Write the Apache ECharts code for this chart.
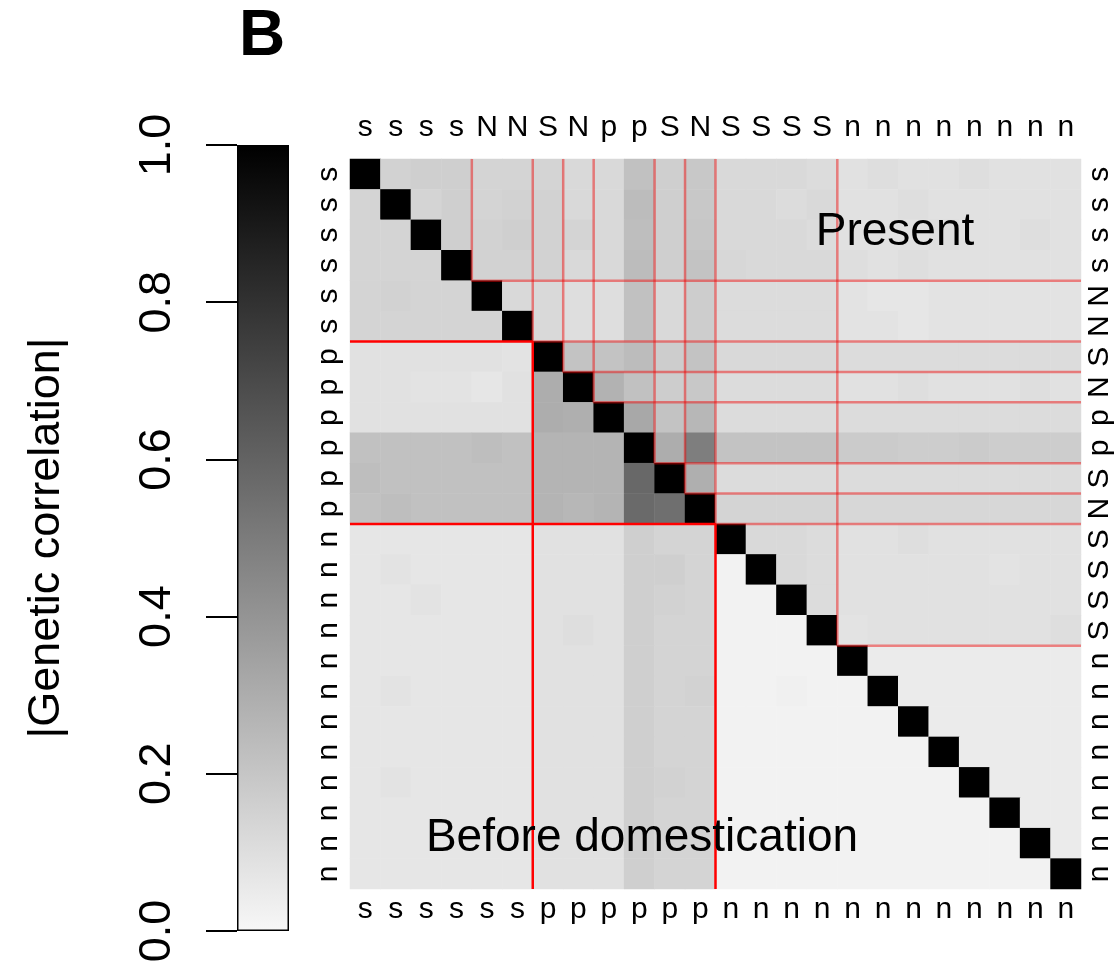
<!DOCTYPE html>
<html>
<head>
<meta charset="utf-8">
<title>Genetic correlation</title>
<script src="https://cdn.jsdelivr.net/npm/echarts@6/dist/echarts.min.js"></script>
<style>
html, body { margin: 0; padding: 0; background: #fff; }
#main { width: 1120px; height: 966px; }
</style>
</head>
<body>
<div id="main"></div>
<script>
/* Trait labels: present order (top, right) and before-domestication order (bottom, left). */
var presentLabels = ['s','s','s','s','N','N','S','N','p','p','S','N','S','S','S','S','n','n','n','n','n','n','n','n'];
var beforeLabels  = ['s','s','s','s','s','s','p','p','p','p','p','p','n','n','n','n','n','n','n','n','n','n','n','n'];

/* Upper triangle (present): row i holds columns i+1 .. 23. */
var presentRows = [
    [.15,.16,.16,.14,.14,.14,.12,.12,.22,.16,.19,.12,.12,.12,.11,.09,.10,.09,.09,.10,.09,.09,.09],
    [.14,.16,.14,.15,.15,.12,.12,.24,.16,.19,.12,.12,.11,.12,.09,.09,.10,.09,.09,.09,.09,.09],
    [.16,.15,.16,.15,.14,.12,.23,.16,.20,.12,.12,.12,.11,.09,.09,.09,.10,.09,.09,.10,.09],
    [.15,.15,.15,.12,.12,.24,.16,.21,.13,.12,.12,.12,.10,.09,.10,.09,.09,.09,.09,.09],
    [.12,.12,.10,.10,.22,.12,.17,.11,.11,.11,.11,.08,.07,.07,.08,.08,.08,.08,.08],
    [.12,.10,.10,.22,.12,.17,.11,.11,.11,.11,.08,.08,.07,.08,.08,.08,.08,.08],
    [.21,.21,.24,.17,.21,.12,.12,.12,.12,.11,.11,.11,.11,.11,.11,.11,.11],
    [.28,.22,.17,.19,.11,.11,.11,.11,.09,.09,.10,.09,.09,.09,.10,.09],
    [.32,.21,.26,.11,.11,.11,.11,.11,.11,.11,.11,.11,.11,.11,.11],
    [.30,.49,.21,.21,.21,.21,.18,.18,.17,.17,.18,.17,.17,.17],
    [.29,.11,.11,.11,.11,.11,.11,.11,.11,.11,.11,.11,.11],
    [.14,.14,.14,.14,.13,.13,.13,.13,.13,.13,.13,.13],
    [.12,.12,.11,.09,.09,.10,.09,.09,.09,.09,.09],
    [.12,.11,.09,.09,.09,.09,.09,.08,.09,.09],
    [.11,.09,.09,.09,.09,.09,.09,.09,.09],
    [.08,.09,.09,.09,.09,.09,.09,.10],
    [.05,.05,.05,.05,.05,.05,.05],
    [.05,.05,.05,.05,.05,.05],
    [.05,.05,.05,.05,.05],
    [.05,.05,.05,.05],
    [.05,.05,.05],
    [.05,.05],
    [.05],
    []
];

/* Lower triangle (before domestication): row i holds columns 0 .. i-1. */
var beforeRows = [
    [],
    [.14],
    [.14,.14],
    [.14,.14,.14],
    [.14,.15,.14,.14],
    [.14,.14,.14,.14,.14],
    [.09,.09,.09,.09,.09,.08],
    [.09,.09,.08,.08,.07,.09,.30],
    [.09,.09,.09,.09,.09,.09,.30,.29],
    [.22,.22,.22,.22,.23,.22,.27,.27,.27],
    [.23,.22,.22,.22,.22,.22,.27,.27,.27,.58],
    [.22,.23,.22,.22,.22,.22,.27,.26,.27,.57,.55],
    [.07,.07,.07,.07,.07,.07,.09,.09,.09,.16,.14,.14],
    [.07,.08,.07,.07,.07,.07,.09,.09,.09,.16,.16,.14,.02],
    [.07,.07,.08,.07,.07,.07,.09,.09,.09,.16,.15,.14,.02,.02],
    [.07,.07,.07,.07,.07,.07,.09,.10,.09,.16,.14,.14,.02,.02,.02],
    [.07,.07,.07,.07,.07,.07,.09,.09,.09,.16,.14,.14,.02,.02,.02,.02],
    [.07,.08,.07,.07,.07,.07,.09,.09,.09,.16,.14,.15,.02,.02,.03,.02,.02],
    [.07,.07,.07,.07,.07,.07,.09,.09,.09,.16,.14,.14,.02,.02,.02,.02,.02,.02],
    [.07,.07,.07,.07,.07,.07,.09,.09,.09,.16,.14,.14,.02,.02,.02,.02,.02,.02,.02],
    [.07,.08,.07,.07,.07,.07,.09,.09,.09,.16,.15,.14,.02,.02,.02,.02,.02,.02,.02,.02],
    [.07,.07,.07,.07,.07,.07,.09,.09,.09,.16,.14,.14,.02,.02,.02,.02,.02,.02,.02,.02,.02],
    [.07,.07,.07,.07,.07,.07,.09,.09,.09,.16,.14,.14,.02,.02,.02,.02,.02,.02,.02,.02,.02,.02],
    [.07,.07,.07,.07,.07,.07,.09,.09,.09,.16,.14,.14,.02,.02,.02,.02,.02,.02,.02,.02,.02,.02,.02]
];

var fontFamily = '"Liberation Sans", Arial, Helvetica, sans-serif';
var colorLow   = '#f7f7f7';
var colorHigh  = '#000000';

/**
 * Indices where a label group starts (label differs from the previous one).
 */
function groupBreaks(labels)
{
    var breaks = [];
    for(var k = 1; k < labels.length; k++)
    {
        if(labels[k] != labels[k - 1]) breaks.push(k);
    }
    return breaks;
}

function buildCells()
{
    var cells = [];
    var n = presentLabels.length;
    for(var i = 0; i < n; i++)
    {
        for(var j = 0; j < n; j++)
        {
            var v;
            if(i == j) v = 1;
            else if(j > i) v = presentRows[i][j - i - 1];
            else v = beforeRows[i][j];
            cells.push([j, i, v]);
        }
    }
    return cells;
}

function buildLines()
{
    var n = presentLabels.length;
    var series = [];
    groupBreaks(presentLabels).forEach(function(k)
    {
        series.push({
            type: 'line', xAxisIndex: 2, yAxisIndex: 2, z: 10, silent: true,
            symbol: 'none', clip: false,
            lineStyle: {color: 'rgba(240,0,0,0.45)', width: 2.5},
            data: [[k, 0], [k, k], [n, k]]
        });
    });
    groupBreaks(beforeLabels).forEach(function(k)
    {
        series.push({
            type: 'line', xAxisIndex: 2, yAxisIndex: 2, z: 11, silent: true,
            symbol: 'none', clip: false,
            lineStyle: {color: '#ff0000', width: 2.5},
            data: [[0, k], [k, k], [k, n]]
        });
    });
    return series;
}

var labelStyle = {color: '#000', fontSize: 30, fontFamily: fontFamily, interval: 0, hideOverlap: false};

var chart  = echarts.init(document.getElementById('main'), null, {renderer: 'canvas'});
var option = {
    animation: false,
    backgroundColor: '#fff',
    grid: [
        {left: 350, top: 159, width: 731, height: 730, outerBoundsMode: 'none', containLabel: false},
        {left: 237, top: 145, width: 52, height: 786, outerBoundsMode: 'none', containLabel: false}
    ],
    xAxis: [
        {type: 'category', gridIndex: 0, position: 'bottom', data: beforeLabels,
         axisLine: {show: false}, axisTick: {show: false}, splitLine: {show: false},
         axisLabel: Object.assign({margin: 6}, labelStyle)},
        {type: 'category', gridIndex: 0, position: 'top', data: presentLabels,
         axisLine: {show: false}, axisTick: {show: false}, splitLine: {show: false},
         axisLabel: Object.assign({margin: 16}, labelStyle)},
        {type: 'value', gridIndex: 0, min: 0, max: presentLabels.length, show: false},
        {type: 'category', gridIndex: 1, data: [''], show: false}
    ],
    yAxis: [
        {type: 'category', gridIndex: 0, position: 'left', inverse: true, data: beforeLabels,
         axisLine: {show: false}, axisTick: {show: false}, splitLine: {show: false},
         axisLabel: Object.assign({margin: 6, rotate: 90}, labelStyle)},
        {type: 'category', gridIndex: 0, position: 'right', inverse: true, data: presentLabels,
         axisLine: {show: false}, axisTick: {show: false}, splitLine: {show: false},
         axisLabel: Object.assign({margin: 4, rotate: 90}, labelStyle)},
        {type: 'value', gridIndex: 0, min: 0, max: presentLabels.length, inverse: true, show: false},
        {type: 'value', gridIndex: 1, min: 0, max: 1, interval: 0.2, position: 'left',
         name: '|Genetic correlation|', nameLocation: 'middle', nameRotate: 90, nameGap: 168,
         nameTextStyle: {color: '#000', fontSize: 45, fontFamily: fontFamily},
         axisLine: {show: false},
         axisTick: {show: true, length: 31, lineStyle: {color: '#000', width: 2}},
         splitLine: {show: false},
         axisLabel: {color: '#000', fontSize: 45, fontFamily: fontFamily, rotate: 90, margin: 57,
                     formatter: function(v) { return v.toFixed(1); }}}
    ],
    visualMap: {
        show: false,
        type: 'continuous',
        seriesIndex: 0,
        min: 0,
        max: 1,
        inRange: {color: [colorLow, colorHigh]}
    },
    graphic: [
        {type: 'text', x: 262, y: 37, z: 100,
         style: {text: 'B', fill: '#000', fontSize: 64, fontWeight: 'bold', fontFamily: fontFamily,
                 textAlign: 'center', textVerticalAlign: 'middle', align: 'center', verticalAlign: 'middle'}},
        {type: 'text', x: 895, y: 232, z: 100,
         style: {text: 'Present', fill: '#000', fontSize: 46, fontFamily: fontFamily,
                 textAlign: 'center', textVerticalAlign: 'middle', align: 'center', verticalAlign: 'middle'}},
        {type: 'text', x: 642, y: 838, z: 100,
         style: {text: 'Before domestication', fill: '#000', fontSize: 46, fontFamily: fontFamily,
                 textAlign: 'center', textVerticalAlign: 'middle', align: 'center', verticalAlign: 'middle'}}
    ],
    series: [
        {
            type: 'heatmap',
            xAxisIndex: 0,
            yAxisIndex: 0,
            silent: true,
            itemStyle: {borderWidth: 0},
            data: buildCells()
        },
        {
            type: 'bar',
            xAxisIndex: 3,
            yAxisIndex: 3,
            silent: true,
            barWidth: '100%',
            itemStyle: {
                color: new echarts.graphic.LinearGradient(0, 0, 0, 1, [
                    {offset: 0, color: colorHigh},
                    {offset: 1, color: colorLow}
                ]),
                borderColor: '#000',
                borderWidth: 1.5
            },
            data: [1]
        }
    ].concat(buildLines())
};
chart.setOption(option);
</script>
</body>
</html>
